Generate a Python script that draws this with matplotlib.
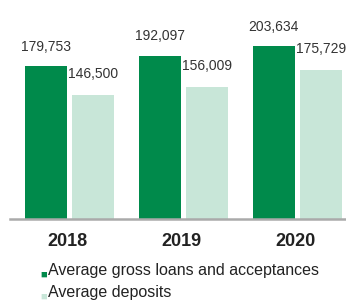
import matplotlib.pyplot as plt
import numpy as np

plt.rcParams['font.family'] = ['Liberation Sans', 'DejaVu Sans']

years = ['2018', '2019', '2020']
loans = [179753, 192097, 203634]
deposits = [146500, 156009, 175729]

dark = '#008a4b'
light = '#c8e6d8'

fig = plt.figure(figsize=(3.46, 3.02), dpi=100)
ax = fig.add_axes([10 / 346, 1 - 219 / 302, 336 / 346, 219 / 302])

x = np.arange(len(years))
bar_width = 0.368
off = 0.206

ax.bar(x - off, loans, width=bar_width, color=dark)
ax.bar(x + off, deposits, width=bar_width, color=light)

for xi, v in zip(x, loans):
    ax.annotate(f'{v:,}', (xi - off, v), xytext=(0, 14), textcoords='offset points',
                ha='center', va='center', fontsize=10, color='#333333')
for xi, v in zip(x, deposits):
    ax.annotate(f'{v:,}', (xi + off, v), xytext=(0, 15), textcoords='offset points',
                ha='center', va='center', fontsize=10, color='#333333')

ax.set_xlim(-0.52, 2.427)
ax.set_ylim(0, 258000)
for s in ['top', 'right', 'left']:
    ax.spines[s].set_visible(False)
ax.spines['bottom'].set_color('#aaaaaa')
ax.spines['bottom'].set_linewidth(1.8)
ax.set_yticks([])
ax.set_xticks(x - 0.02)
ax.set_xticklabels(years, fontsize=13, fontweight='bold', color='#222222')
ax.tick_params(axis='x', length=0, pad=10)

# legend drawn as text with square markers
fig.text(44 / 346, 1 - 275 / 302, '\u25a0', color=dark, fontsize=8, ha='center', va='center')
fig.text(48 / 346, 1 - 271 / 302, 'Average gross loans and acceptances', fontsize=11.5,
         ha='left', va='center', color='#222222')
fig.text(44 / 346, 1 - 297 / 302, '\u25a0', color=light, fontsize=8, ha='center', va='center')
fig.text(48 / 346, 1 - 293 / 302, 'Average deposits', fontsize=11.5,
         ha='left', va='center', color='#222222')

fig.savefig('out.png', dpi=100)
